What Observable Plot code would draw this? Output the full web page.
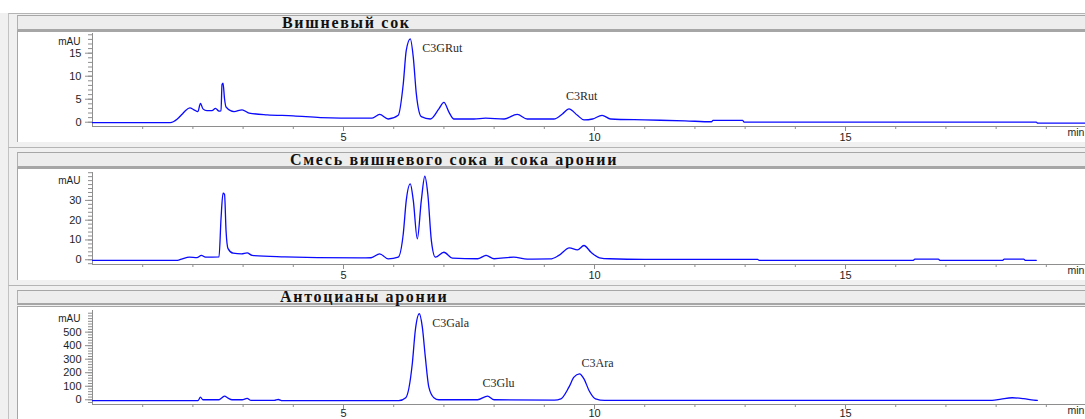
<!DOCTYPE html>
<html>
<head>
<meta charset="utf-8">
<script src="https://cdn.jsdelivr.net/npm/d3@7"></script>
<script src="https://cdn.jsdelivr.net/npm/@observablehq/plot@0.6"></script>
<style>
  html, body { margin: 0; padding: 0; background: #fff; }
  #page { position: relative; width: 1085px; height: 419px; overflow: hidden; background: #fff; }
  .window { position: absolute; left: 0; top: 13px; width: 1100px; height: 420px; background: #f0f0f0; }
  .frame { position: absolute; left: 8px; width: 1100px; height: 420px; border-top: 1px solid #b4b4b4; border-left: 1px solid #c2c2c2; }
  .titlebar { position: absolute; left: 17px; width: 1100px; background: #ededed; box-sizing: border-box;
              border-top: 1px solid #a6a6a6; border-bottom: 2px solid #a6a6a6; border-left: 1px solid #b0b0b0;
              display: flex; align-items: center; }
  .titlebar span { font: bold 16px "Liberation Serif", "Times New Roman", serif; letter-spacing: 1.7px; color: #111; white-space: nowrap; line-height: 1; }
  .plotbox { position: absolute; left: 17px; width: 1100px; background: #fff; box-sizing: border-box; overflow: hidden;
             border-left: 1px solid #a6a6a6; border-top: 1px solid #a6a6a6; }
  .plotbox svg { position: absolute; left: 0; top: 0; }
</style>
</head>
<body>
<div id="page">
  <div class="window"></div>

  <div class="frame" style="top:13px"></div>
  <div class="titlebar" style="top:15px;height:16px"><span style="margin-left:264px">Вишневый сок</span></div>
  <div class="plotbox" id="p1" style="top:31px;height:111px"></div>

  <div class="frame" style="top:147px"></div>
  <div class="titlebar" style="top:152px;height:16px"><span style="margin-left:272px">Смесь вишневого сока и сока аронии</span></div>
  <div class="plotbox" id="p2" style="top:168px;height:112px"></div>

  <div class="frame" style="top:285px"></div>
  <div class="titlebar" style="top:290px;height:15px"><span style="margin-left:262px">Антоцианы аронии</span></div>
  <div class="plotbox" id="p3" style="top:306px;height:120px"></div>
</div>

<script>
// Retention time (min) and detector response (mAU), one [t, mAU] pair per point.
const cherryTrace = [
  [0, -0.1], [1.55, -0.1], [1.69, 0.7], [1.79, 1.8], [1.85, 2.5], [1.94, 3.1], [2.02, 2.7], [2.1, 2.3],
  [2.15, 4.1], [2.2, 2.9], [2.28, 2.5], [2.38, 2.5], [2.45, 3.0], [2.52, 2.4], [2.56, 2.5], [2.58, 8.2],
  [2.6, 8.5], [2.63, 5.1], [2.66, 3.3], [2.82, 2.3], [2.98, 2.7], [3.12, 2.0], [3.48, 1.6], [4.0, 1.4],
  [4.54, 1.0], [4.94, 0.9], [5.57, 0.9], [5.72, 1.7], [5.89, 0.7], [6.09, 1.5], [6.19, 8.3], [6.25, 15.6],
  [6.33, 18.1], [6.39, 14.1], [6.45, 6.2], [6.55, 1.2], [6.73, 0.7], [6.9, 2.9], [7.0, 4.3], [7.1, 2.2],
  [7.2, 0.7], [7.6, 0.7], [7.83, 0.9], [8.2, 0.7], [8.46, 1.7], [8.66, 0.7], [9.19, 0.7], [9.36, 1.8],
  [9.49, 2.9], [9.66, 1.5], [9.79, 0.5], [9.96, 0.7], [10.15, 1.5], [10.32, 0.7], [11.0, 0.5], [11.8, 0.3],
  [12.33, 0.1], [12.36, 0.4], [12.95, 0.4], [12.98, 0], [18.8, 0], [18.83, -0.2], [19.8, -0.2]
];
const mixTrace = [
  [0, -0.3], [1.69, -0.3], [1.79, 0.5], [1.93, 1.3], [2.08, 1.1], [2.17, 2.2], [2.25, 1.3], [2.52, 1.5],
  [2.56, 20.7], [2.6, 33.6], [2.63, 33], [2.66, 14.8], [2.7, 5.6], [2.8, 3.3], [2.97, 3.0], [3.08, 3.5],
  [3.18, 2.2], [3.83, 1.5], [4.48, 1.1], [5.34, 0.9], [5.55, 1.0], [5.72, 3.0], [5.89, 0.4], [6.09, 1.3],
  [6.19, 13], [6.25, 30], [6.33, 38.4], [6.39, 30], [6.47, 10.6], [6.55, 30], [6.62, 42.2], [6.68, 33],
  [6.75, 9.7], [6.83, 1.3], [7.0, 3.8], [7.17, 0.8], [7.67, 0.5], [7.84, 2.2], [8.0, 0.5], [8.39, 1.3],
  [8.66, 0.3], [9.12, 0.4], [9.29, 2.2], [9.5, 6.0], [9.66, 5.0], [9.79, 7.2], [9.93, 3.8], [10.1, 1.0],
  [10.3, 0.5], [11.0, 0.2], [13.25, 0.2], [13.28, -0.3], [16.35, -0.3], [16.38, 0.3], [16.85, 0.3],
  [16.88, -0.3], [18.13, -0.3], [18.16, 0.3], [18.55, 0.3], [18.58, -0.3], [18.8, -0.3]
];
const aroniaTrace = [
  [0, -7], [2.1, -7], [2.15, 19], [2.2, 0], [2.52, 0], [2.58, 15], [2.63, 27], [2.7, 12], [2.78, 0],
  [2.98, 0], [3.08, 10], [3.16, -5], [3.62, -5], [3.7, 2], [3.78, -7], [6.1, -7], [6.24, 15], [6.37, 266],
  [6.43, 512], [6.51, 636], [6.57, 537], [6.63, 315], [6.7, 93], [6.8, 15], [6.9, 0], [7.67, 0],
  [7.87, 27], [8.0, 0], [9.2, -3], [9.33, 7], [9.49, 93], [9.59, 167], [9.7, 192], [9.79, 155],
  [9.89, 69], [10.02, 7], [10.2, -5], [17.92, -5], [18.1, 5], [18.32, 15], [18.55, 8], [18.75, -3], [18.82, -5]
];

// Identified anthocyanins and the retention times of their peaks
const cherryPeakNames = ["C3GRut", "C3Rut"];
const cherryPeakTimes = [6.33, 9.49];
const mixPeakNames = [];
const mixPeakTimes = [];
const aroniaPeakNames = ["C3Gala", "C3Glu", "C3Ara"];
const aroniaPeakTimes = [6.51, 7.87, 9.7];

// Axis ticks
const minuteLabels = [5, 10, 15];
const minuteTicks = d3.range(1, 20);
const cherryTicks = [0, 5, 10, 15];
const mixTicks = [0, 10, 20, 30];
const aroniaTicks = [0, 100, 200, 300, 400, 500];

const TRACE = "#0a0aff";
const AXIS = "#8e8e8e";
const INK = "#1e1e1e";
const SANS = "'Liberation Sans', Arial, sans-serif";
const SERIF = "'Liberation Serif', 'Times New Roman', serif";

// Where each peak name sits relative to its apex (px)
const labelOffset = {
  C3GRut: [12, 9], C3Rut: [-3, -13],
  C3Gala: [13, 9], C3Glu: [-5, -13], C3Ara: [2, -11]
};

function chromatogram({trace, yDomain, minorStep, majorTicks, names, times, height, marginTop, labelPadding}) {
  const pts = trace.map(([t, v]) => ({t, v}));
  const peaks = names.map((name, i) => {
    const p = pts.find(d => d.t === times[i]);
    return {name, t: p.t, v: p.v};
  });
  const minor = d3.range(Math.ceil(yDomain[0] / minorStep) * minorStep, yDomain[1], minorStep);
  return Plot.plot({
    width: 1068, height,
    marginLeft: 74, marginRight: 0, marginTop, marginBottom: 16,
    x: {domain: [0, 19.8], axis: null, label: null},
    y: {domain: yDomain, axis: null, label: null},
    style: {background: "transparent", overflow: "visible", fontFamily: SANS},
    marks: [
      Plot.axisY({ticks: minor, tickSize: 4, tickFormat: () => "", stroke: AXIS, label: null}),
      Plot.axisY({ticks: majorTicks, tickSize: 7, tickPadding: 4, stroke: AXIS, fill: INK, fontSize: 11, label: null}),
      Plot.axisX({ticks: minuteTicks, tickSize: 3, tickFormat: () => "", stroke: AXIS, label: null}),
      Plot.axisX({ticks: minuteLabels, tickSize: 5, tickPadding: labelPadding, stroke: AXIS, fill: INK, fontSize: 11, label: null}),
      Plot.ruleX([0], {stroke: AXIS}),
      Plot.ruleY([yDomain[0]], {stroke: AXIS}),
      Plot.text(["mAU"], {frameAnchor: "top-left", dx: -12, dy: 4, textAnchor: "end", fontSize: 10, fill: INK}),
      Plot.text(["min"], {frameAnchor: "bottom-right", dx: -19, dy: 9, textAnchor: "start", fontSize: 10.5, fill: INK}),
      Plot.line(pts, {x: "t", y: "v", stroke: TRACE, strokeWidth: 1.3, curve: "monotone-x"}),
      ...peaks.map(p => Plot.text([p], {
        x: "t", y: "v", text: "name",
        dx: labelOffset[p.name][0], dy: labelOffset[p.name][1],
        textAnchor: "start", fontFamily: SERIF, fontSize: 12, fill: "#2a2a2a"
      }))
    ]
  });
}

document.getElementById("p1").append(chromatogram({
  trace: cherryTrace, yDomain: [-0.93, 19.28], minorStep: 1, majorTicks: cherryTicks,
  names: cherryPeakNames, times: cherryPeakTimes, height: 110, marginTop: 1, labelPadding: 2
}));
document.getElementById("p2").append(chromatogram({
  trace: mixTrace, yDomain: [-2.4, 44.1], minorStep: 2, majorTicks: mixTicks,
  names: mixPeakNames, times: mixPeakTimes, height: 111, marginTop: 3, labelPadding: 2
}));
document.getElementById("p3").append(chromatogram({
  trace: aroniaTrace, yDomain: [-35, 660], minorStep: 20, majorTicks: aroniaTicks,
  names: aroniaPeakNames, times: aroniaPeakTimes, height: 113, marginTop: 3, labelPadding: 0
}));
</script>
</body>
</html>
